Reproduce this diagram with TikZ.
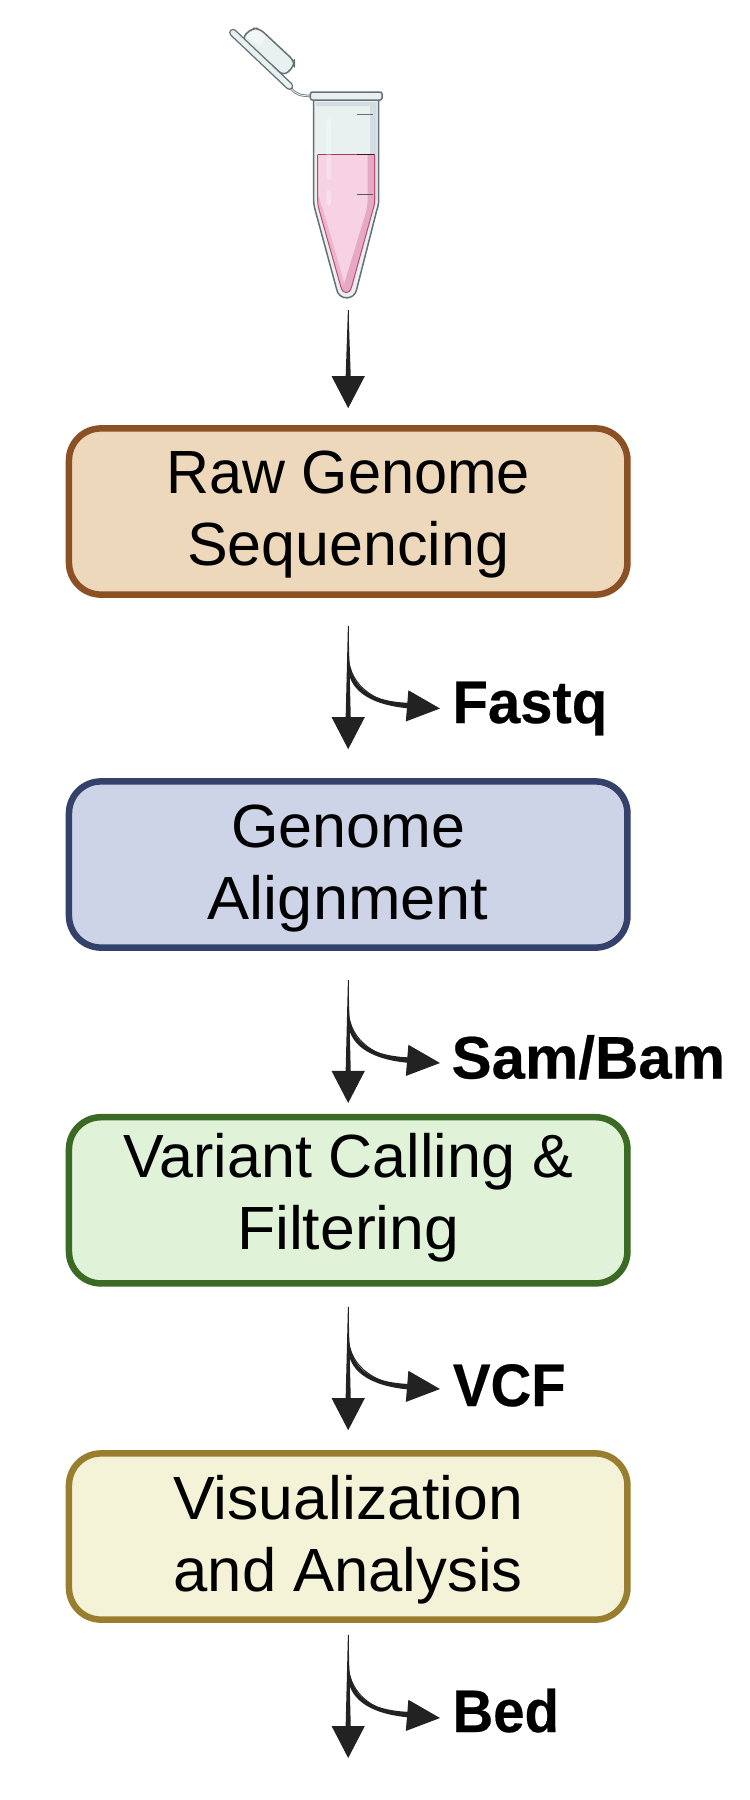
\documentclass[tikz,border=0pt]{standalone}
\usepackage{fontspec}
\setmainfont{Liberation Sans}
\usetikzlibrary{arrows.meta}
\definecolor{ink}{HTML}{222222}
\definecolor{tubeline}{HTML}{667078}
\definecolor{tubefill}{HTML}{E9F0F0}
\definecolor{tubeshade}{HTML}{D3DCE2}
\definecolor{liqfill}{HTML}{F6D2E2}
\definecolor{liqshade}{HTML}{E6A9C3}
\definecolor{liqline}{HTML}{C2476E}
\tikzset{
  stage/.style={rounded corners=32pt,line width=6.5pt,minimum width=558.5pt,minimum height=166.2pt,inner sep=0pt},
  stagetext/.style={align=center,inner sep=0pt,text=black,font=\fontsize{61}{72}\selectfont},
  outlabel/.style={anchor=base west,inner sep=0pt,text=black,font=\fontsize{60}{72}\selectfont\bfseries\addfontfeature{FakeBold=0.4}},
  flow/.style={draw=ink,line width=1pt,-{Triangle[length=32pt,width=33pt]}},
  side/.style={draw=ink,line width=1pt,-{Triangle[length=33pt,width=31pt]}},
  tubeedge/.style={draw=tubeline,line width=1.5pt,line join=round},
}
\newcommand{\stemflow}[4]{%
  \draw[flow,shorten <=#3pt,shorten >=#4pt] (#1) -- (#2);
  \fill[ink] ([shift={(-.3,#3)}]#1) -- ([shift={(.3,#3)}]#1)
     -- ([shift={(2.6,-#4-30)}]#2) -- ([shift={(-2.6,-#4-30)}]#2) -- cycle;
}
\newcommand{\sideflow}[4]{%
  \coordinate (o) at ([yshift=-#2pt]#1);
  \coordinate (tt) at ([shift={#4}]#3.base west);
  \draw[side] ([yshift=-29pt]o) .. controls +(1,33) and +(-62,-5) .. (tt);
  \fill[ink] ([shift={(.4,29)}]o) .. controls ([shift={(2,60)}]o) and ([shift={(19,75)}]o) .. ([shift={(60,77)}]o)
     -- ([shift={(60,82.5)}]o) .. controls ([shift={(18,78.5)}]o) and ([shift={(0,62)}]o) .. ([shift={(-.4,40)}]o) -- cycle;
}
\begin{document}
\begin{tikzpicture}[x=1pt,y=-1pt]
\useasboundingbox (0,0) rectangle (750,1800);

% ---- tube ----
\begin{scope}[shift={(200,0)},x=0.33333pt,y=-0.33333pt]
  % hinge
  \draw[tubeline,line width=2.4pt] (272,262) .. controls (285,285) and (305,287) .. (332,288);
  \draw[tubefill,line width=.9pt] (272,262) .. controls (285,285) and (305,287) .. (332,288);
  % lid
  \path[tubeedge,fill=tubefill,rounded corners=6pt] (125,115) -- (155,85) -- (178,85) -- (283,183) -- (283,197) -- (252,228) -- cycle;
  \fill[white,opacity=.45] (138,112) -- (160,92) -- (178,92) -- (198,110) -- (180,138) -- cycle;
  % strap
  \draw[tubeline,line width=7.8pt,line cap=round] (99,98) -- (268,258);
  \draw[tubefill,line width=5pt,line cap=round] (99,98) -- (268,258);
  % body
  \path[tubeedge,fill=tubefill] (341,298) -- (341,600) .. controls (341,612) and (343,620) .. (346,632)
     -- (410,868) .. controls (416,902) and (464,902) .. (470,868) -- (530,632)
     .. controls (534,620) and (536,612) .. (536,600) -- (536,298) -- cycle;
  \fill[tubeshade] (348,306) -- (530,306) -- (530,600) -- (524,600) -- (524,464) -- (510,464) -- (510,318) -- (348,318) -- cycle;
  % liquid
  \path[fill=liqfill] (353,464) -- (524,464) -- (524,600) .. controls (524,612) and (522,620) .. (518,632)
     -- (455,860) .. controls (449,884) and (429,884) .. (423,862) -- (358,632)
     .. controls (354,618) and (353,610) .. (353,590) -- cycle;
  \fill[liqshade] (503,464) -- (524,464) -- (524,600) .. controls (524,612) and (522,620) .. (518,632)
     -- (455,860) .. controls (449,884) and (429,884) .. (423,862) -- (433,850) -- (497,640) .. controls (501,625) and (503,612) .. (503,590) -- cycle;
  \fill[liqshade!70!liqfill] (353,590) .. controls (353,610) and (354,618) .. (358,632) -- (423,862) -- (433,850) -- (368,625) .. controls (361,610) and (359,600) .. (358,590) -- cycle;
  \draw[liqline,line width=1pt,line join=round] (353,464) -- (353,590) .. controls (353,610) and (354,618) .. (358,632)
     -- (423,862) .. controls (429,884) and (449,884) .. (455,860) -- (518,632)
     .. controls (522,620) and (524,612) .. (524,600) -- (524,464);
  \draw[liqline!85!black,line width=1pt] (353,464) -- (524,464);
  % highlights
  \fill[white,opacity=.3,rounded corners=3pt] (379,355) rectangle (393,540);
  \fill[white,opacity=.3,rounded corners=3pt] (379,570) rectangle (393,618);
  % ticks
  \draw[tubeline,line width=.8pt] (470,344) -- (518,344);
  \draw[black!70!liqline,line width=1pt] (470,464) -- (522,464);
  \draw[tubeline!80!black,line width=.8pt] (470,584) -- (520,584);
  % rim
  \path[tubeedge,fill=tubefill,rounded corners=2pt] (331,276) rectangle (546,300);
\end{scope}
\coordinate (tubetip) at (348.2,298);

% ---- stages ----
\node[stage,draw={rgb,255:red,139;green,80;blue,35},fill={rgb,255:red,238;green,216;blue,187}] (b1) at (348.2,511.5) {};
\node[stage,draw={rgb,255:red,51;green,65;blue,107},fill={rgb,255:red,205;green,212;blue,232}] (b2) at (348.2,864.5) {};
\node[stage,draw={rgb,255:red,59;green,106;blue,36},fill={rgb,255:red,224;green,242;blue,216}] (b3) at (348.2,1200.3) {};
\node[stage,draw={rgb,255:red,154;green,126;blue,47},fill={rgb,255:red,245;green,243;blue,215}] (b4) at (348.2,1536.5) {};

\node[stagetext] (t1) at (348.2,515) {\strut\scalebox{.975}[1]{Raw Genome}\\\scalebox{1}[1]{Sequencing}\strut};
\node[stagetext] (t2) at (348.2,868.6) {\strut\scalebox{1}[1]{Genome}\\\scalebox{1.035}[1]{Alignment}\strut};
\node[stagetext] (t3) at (348.2,1198.9) {\strut\scalebox{1}[1]{Variant Calling \&}\\\scalebox{1.025}[1]{Filtering}\strut};
\node[stagetext] (t4) at (348.2,1540.6) {\strut\scalebox{1.025}[1]{Visualization}\\\scalebox{1.01}[1]{and Analysis}\strut};

\node[outlabel] (l1) at (452.3,723) {\scalebox{.967}[1]{Fastq}};
\node[outlabel] (l2) at (451.4,1078.5) {\scalebox{1}[1]{Sam/Bam}};
\node[outlabel] (l3) at (452.7,1406) {\scalebox{.94}[1]{VCF}};
\node[outlabel] (l4) at (452.3,1732) {\scalebox{.94}[1]{Bed}};
\coordinate (finish) at (348.2,1758);

% ---- connectors ----
\stemflow{tubetip}{b1.north}{12}{17}
\stemflow{b1.south}{b2.north}{28}{29}
\stemflow{b2.south}{b3.north}{29.5}{11}
\stemflow{b3.south}{b4.north}{20.3}{20}
\stemflow{b4.south}{finish}{12}{0}

\sideflow{b1.south}{28}{l1}{(-12.3,-14.5)}
\sideflow{b2.south}{29.5}{l2}{(-11.4,-15.5)}
\sideflow{b3.south}{20.3}{l3}{(-12.7,-17)}
\sideflow{b4.south}{12}{l4}{(-12.3,-14)}
\end{tikzpicture}
\end{document}
